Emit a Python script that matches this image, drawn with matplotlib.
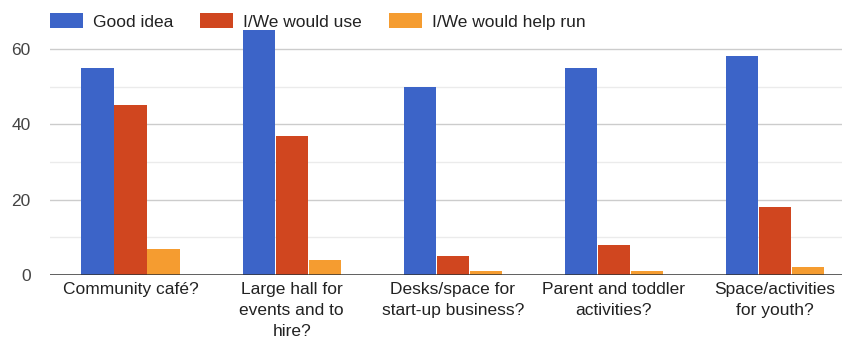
import matplotlib
matplotlib.use('Agg')
import matplotlib.pyplot as plt
import numpy as np

# data
categories = ['Community café?', 'Large hall for\nevents and to\nhire?',
              'Desks/space for\nstart-up business?', 'Parent and toddler\nactivities?',
              'Space/activities\nfor youth?']
good_idea = [55, 65, 50, 55, 58]
would_use = [45, 37, 5, 8, 18]
help_run = [7, 4, 1, 1, 2]
series_names = ['Good idea', 'I/We would use', 'I/We would help run']
colors = ['#3c64c8', '#d0461f', '#f59c30']

plt.rcParams['font.family'] = ['Liberation Sans', 'DejaVu Sans']
fs = 12.5

fig = plt.figure(figsize=(8.42, 3.40), dpi=100)
ax = fig.add_axes([50 / 842, 1 - 275 / 340, 1 - 50 / 842, (275 - 30) / 340])

ind = np.arange(len(categories))
width = 0.2
bars = []
for i, (vals, c) in enumerate(zip([good_idea, would_use, help_run], colors)):
    b = ax.bar(ind + (i - 1) * 0.205, vals, width, color=c, zorder=3)
    bars.append(b)

ax.set_ylim(0, 65)
ax.set_xlim(-0.5, 4.5 - 13.5 / 161)
ax.set_yticks([0, 20, 40, 60])
ax.set_yticks([10, 30, 50], minor=True)
ax.grid(axis='y', which='major', color='#cccccc', linewidth=1, zorder=0)
ax.grid(axis='y', which='minor', color='#ebebeb', linewidth=1, zorder=0)
ax.axhline(0, color='#333333', linewidth=1.8, zorder=4)
for s in ax.spines.values():
    s.set_visible(False)
ax.tick_params(axis='both', which='both', length=0, labelsize=fs, colors='#444444')
ax.tick_params(axis='y', pad=14)
ax.tick_params(axis='x', pad=5, labelcolor='#222222')
ax.set_xticks(ind)
ax.set_xticklabels(categories, linespacing=1.5)

fig.legend(bars, series_names, loc='upper left', bbox_to_anchor=(43 / 842, 1 - 6 / 340),
           ncol=3, frameon=False, fontsize=fs, handlelength=1.9, handleheight=1.0,
           columnspacing=1.55, handletextpad=0.57, borderaxespad=0, labelcolor='#222222')

fig.savefig('out.png', dpi=100)
